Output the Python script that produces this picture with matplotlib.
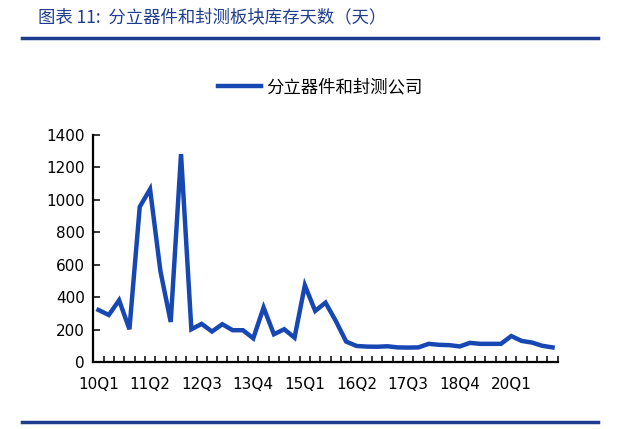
import numpy as np
import matplotlib
matplotlib.use('Agg')
import matplotlib.pyplot as plt
from matplotlib.lines import Line2D
from matplotlib.ticker import FixedLocator

plt.rcParams['font.family'] = ['Noto Sans CJK SC', 'DejaVu Sans']

TITLE = '图表 11:  分立器件和封测板块库存天数（天）'
SERIES_NAME = '分立器件和封测公司'

# quarters 10Q1 .. 21Q1
quarters = []
for yr in range(10, 22):
    for q in range(1, 5):
        quarters.append('%02dQ%d' % (yr, q))
quarters = quarters[:45]

# inventory days
days = [321, 290, 381, 202, 957, 1066, 562, 247, 1282, 202,
        235, 188, 233, 196, 196, 146, 336, 171, 202, 150,
        473, 315, 366, 253, 126, 99, 95, 94, 97, 90,
        89, 90, 112, 106, 104, 96, 118, 112, 112, 112,
        160, 130, 120, 100, 90]

label_every = 5
y_ticks = [0, 200, 400, 600, 800, 1000, 1200, 1400]

BLUE = '#1747b3'
DARK_BLUE = '#1e3d8f'

W, H = 640, 429
fig = plt.figure(figsize=(W / 100, H / 100), dpi=100)
fig.patch.set_facecolor('white')

ax = fig.add_axes([93.3 / W, 1 - 362 / H, (557.7 - 93.3) / W, (362 - 135) / H])
x = np.arange(len(days))
line, = ax.plot(x, days, color=BLUE, lw=3.2, solid_joinstyle='miter', label=SERIES_NAME)

ax.set_xlim(-0.5, len(days) - 0.5)
ax.set_ylim(0, 1400)
ax.set_yticks(y_ticks)
ax.set_yticklabels([str(v) for v in y_ticks], fontsize=11, family='DejaVu Sans')

ax.set_xticks(x[::label_every])
ax.set_xticklabels(quarters[::label_every], fontsize=11, family='DejaVu Sans')
ax.xaxis.set_minor_locator(FixedLocator(np.arange(-0.5, len(days), 1.0)))
ax.tick_params(axis='x', which='major', length=0, pad=11)
ax.tick_params(axis='x', which='minor', direction='in', length=4, width=1.1)
ax.tick_params(axis='y', direction='in', length=5, width=1.1, pad=6)

for s in ['top', 'right']:
    ax.spines[s].set_visible(False)
for s in ['left', 'bottom']:
    ax.spines[s].set_linewidth(1.6)
    ax.spines[s].set_color('black')

ax.legend(handles=[line], loc='center', bbox_to_anchor=(0.5, 1 - 87 / H),
          bbox_transform=fig.transFigure, frameon=False, fontsize=12.5,
          handlelength=2.5, handletextpad=0.3)

fig.text(38 / W, 1 - 17 / H, TITLE, fontsize=12.5, color=DARK_BLUE,
         style='italic', va='center', ha='left')
fig.add_artist(Line2D([22 / W, 598 / W], [1 - 38 / H, 1 - 38 / H],
                      color=DARK_BLUE, lw=2.5))
fig.add_artist(Line2D([22 / W, 598 / W], [1 - 422 / H, 1 - 422 / H],
                      color=DARK_BLUE, lw=2.5))

fig.savefig('out.png', dpi=100, facecolor=fig.get_facecolor())
